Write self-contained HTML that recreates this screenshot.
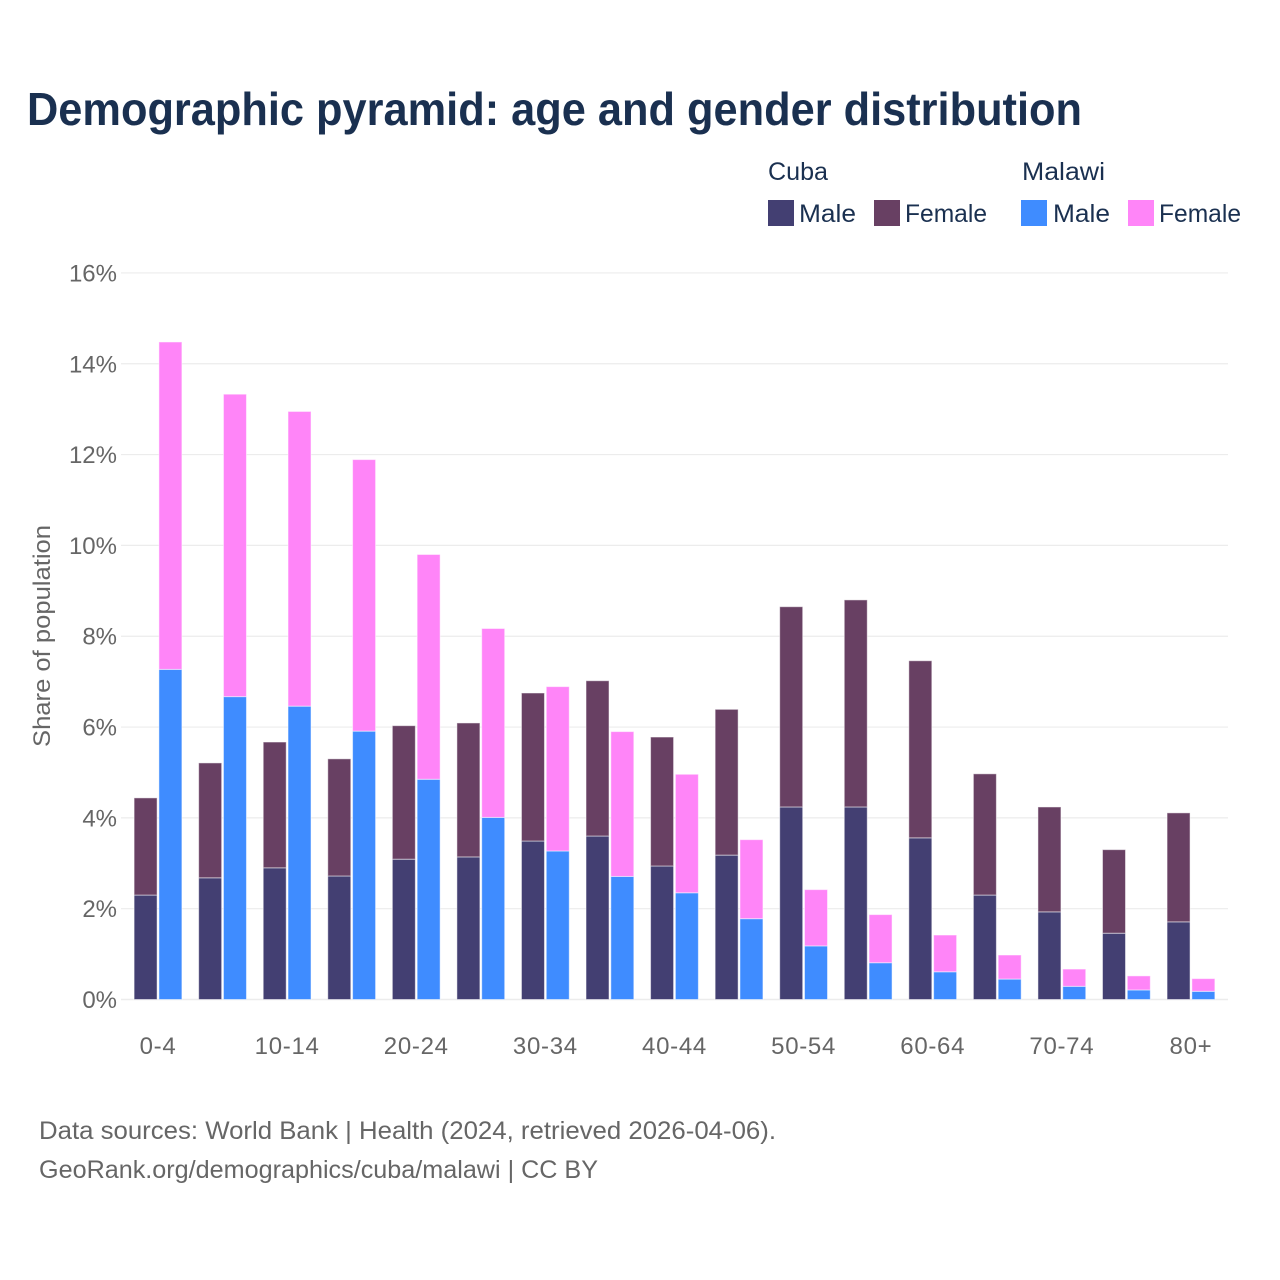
<!DOCTYPE html>
<html lang="en">
<head>
<meta charset="utf-8">
<title>Demographic pyramid: age and gender distribution</title>
<style>
  html, body { margin: 0; padding: 0; background: #ffffff; }
  svg { display: block; font-family: "Liberation Sans", sans-serif; }
</style>
</head>
<body>
<svg id="chart" xmlns="http://www.w3.org/2000/svg" width="1280" height="1280" viewBox="0 0 1280 1280">
  <rect x="0" y="0" width="1280" height="1280" fill="#ffffff"/>
  <text x="27" y="125" font-size="46" font-weight="700" fill="#1a3050" textLength="1055" lengthAdjust="spacingAndGlyphs">Demographic pyramid: age and gender distribution</text>

  <g font-size="25" fill="#1a3050">
    <text x="768" y="180" textLength="60" lengthAdjust="spacingAndGlyphs">Cuba</text>
    <text x="1022" y="180" textLength="83" lengthAdjust="spacingAndGlyphs">Malawi</text>
    <rect x="768" y="200" width="26" height="26" fill="#433f72"/>
    <text x="799" y="222" textLength="57" lengthAdjust="spacingAndGlyphs">Male</text>
    <rect x="874" y="200" width="26" height="26" fill="#684063"/>
    <text x="905" y="222" textLength="82" lengthAdjust="spacingAndGlyphs">Female</text>
    <rect x="1021" y="200" width="26" height="26" fill="#3f8cff"/>
    <text x="1053" y="222" textLength="57" lengthAdjust="spacingAndGlyphs">Male</text>
    <rect x="1128" y="200" width="26" height="26" fill="#ff85f8"/>
    <text x="1159" y="222" textLength="82" lengthAdjust="spacingAndGlyphs">Female</text>
  </g>

  <g id="grid"></g>
  <g id="y-axis"></g>
  <g id="bars"></g>
  <g id="x-axis"></g>

  <text transform="translate(50,636) rotate(-90)" text-anchor="middle" font-size="24" fill="#666666" textLength="222" lengthAdjust="spacingAndGlyphs">Share of population</text>

  <text x="39" y="1139" font-size="25" fill="#666666" textLength="737" lengthAdjust="spacingAndGlyphs">Data sources: World Bank | Health (2024, retrieved 2026-04-06).</text>
  <text x="39" y="1178" font-size="25" fill="#666666" textLength="559" lengthAdjust="spacingAndGlyphs">GeoRank.org/demographics/cuba/malawi | CC BY</text>
</svg>

<script>
const ageGroups = ['0-4','5-9','10-14','15-19','20-24','25-29','30-34','35-39','40-44','45-49','50-54','55-59','60-64','65-69','70-74','75-79','80+'];
const xTickLabels = ['0-4','10-14','20-24','30-34','40-44','50-54','60-64','70-74','80+'];
const yTicks = [0, 2, 4, 6, 8, 10, 12, 14, 16];
const cubaMale = [2.30, 2.68, 2.90, 2.72, 3.09, 3.14, 3.49, 3.60, 2.94, 3.18, 4.24, 4.24, 3.56, 2.30, 1.93, 1.46, 1.71];
const cubaFemale = [2.14, 2.53, 2.77, 2.58, 2.94, 2.95, 3.26, 3.42, 2.84, 3.21, 4.41, 4.56, 3.90, 2.67, 2.31, 1.84, 2.40];
const malawiMale = [7.27, 6.67, 6.46, 5.91, 4.85, 4.01, 3.27, 2.71, 2.35, 1.78, 1.18, 0.81, 0.61, 0.45, 0.29, 0.21, 0.18];
const malawiFemale = [7.21, 6.66, 6.49, 5.98, 4.95, 4.16, 3.62, 3.19, 2.61, 1.74, 1.24, 1.06, 0.81, 0.53, 0.38, 0.31, 0.28];

const SVG_NS = 'http://www.w3.org/2000/svg';
const cuMaleColor = '#433f72';
const cuFemaleColor = '#684063';
const maMaleColor = '#3f8cff';
const maFemaleColor = '#ff85f8';

function xBand(i) { return 158 + i * 64.56; }
function yScale(v) { return 999.5 - v * 45.41; }

function stacked(parent, center, lower, upper, lowerColor, upperColor, key) {
  const w = 23;
  const yMid = yScale(lower);
  const yTop = yScale(lower + upper);
  const seg1 = document.createElementNS(SVG_NS, 'rect');
  
  
  seg1.setAttribute('x', center - w / 2);
  seg1.setAttribute('y', yMid);
  seg1.setAttribute('width', w);
  seg1.setAttribute('height', yScale(0) - yMid);
  seg1.setAttribute('fill', lowerColor);
  seg1.setAttribute('stroke', '#ffffff');
  seg1.setAttribute('stroke-opacity', '0.5');
  seg1.setAttribute('stroke-width', '1');
  parent.appendChild(seg1);
  const seg2 = document.createElementNS(SVG_NS, 'rect');
  
  
  seg2.setAttribute('x', center - w / 2);
  seg2.setAttribute('y', yTop);
  seg2.setAttribute('width', w);
  seg2.setAttribute('height', yMid - yTop);
  seg2.setAttribute('fill', upperColor);
  seg2.setAttribute('stroke', '#ffffff');
  seg2.setAttribute('stroke-opacity', '0.5');
  seg2.setAttribute('stroke-width', '1');
  parent.appendChild(seg2);
}

const gridGroup = document.getElementById('grid');
const yAxisGroup = document.getElementById('y-axis');
yTicks.forEach(function (t) {
  const line = document.createElementNS(SVG_NS, 'line');
  
  
  line.setAttribute('x1', 121);
  line.setAttribute('x2', 1228);
  line.setAttribute('y1', yScale(t));
  line.setAttribute('y2', yScale(t));
  line.setAttribute('stroke', '#ececec');
  line.setAttribute('stroke-width', t === 0 ? 1.6 : 1.2);
  gridGroup.appendChild(line);
  const label = document.createElementNS(SVG_NS, 'text');
  
  
  label.setAttribute('x', 117);
  label.setAttribute('y', yScale(t) + 8.5);
  label.setAttribute('text-anchor', 'end');
  label.setAttribute('font-size', '24');
  label.setAttribute('fill', '#666666');
  label.textContent = t + '%';
  yAxisGroup.appendChild(label);
});

const barsGroup = document.getElementById('bars');
ageGroups.forEach(function (age, i) {
  stacked(barsGroup, xBand(i) - 12.4, cubaMale[i], cubaFemale[i], cuMaleColor, cuFemaleColor, 'cuba-' + age);
  stacked(barsGroup, xBand(i) + 12.4, malawiMale[i], malawiFemale[i], maMaleColor, maFemaleColor, 'malawi-' + age);
});

const xAxisGroup = document.getElementById('x-axis');
xTickLabels.forEach(function (lbl) {
  const text = document.createElementNS(SVG_NS, 'text');
  
  
  text.setAttribute('x', xBand(ageGroups.indexOf(lbl)));
  text.setAttribute('y', 1054);
  text.setAttribute('text-anchor', 'middle');
  text.setAttribute('font-size', '24');
  text.setAttribute('letter-spacing', '0.7');
  text.setAttribute('fill', '#666666');
  text.textContent = lbl;
  xAxisGroup.appendChild(text);
});
</script>
</body>
</html>
